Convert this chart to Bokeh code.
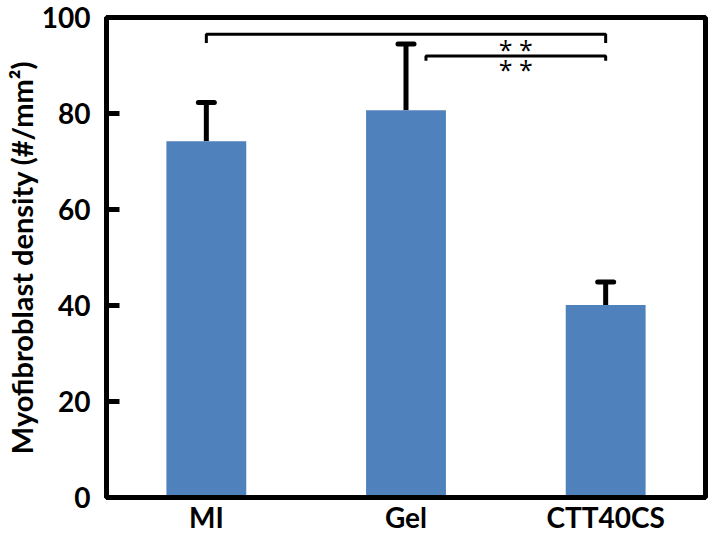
from bokeh.plotting import figure
from bokeh.models import Range1d, FixedTicker, Whisker, TeeHead, ColumnDataSource
from bokeh.core.properties import value
from bokeh.embed import file_html
from bokeh.resources import INLINE

# ---- data ----
categories = ["MI", "Gel", "CTT40CS"]
density = [74.2, 80.7, 40.1]
density_err = [8.1, 13.8, 4.8]
y_ticks = [0, 20, 40, 60, 80, 100]
# significance comparisons: (from category index, to category index, label)
comparisons = [(0, 2, "* *"), (1, 2, "* *")]
y_title = "Myofibroblast density (#/mm²)"

FONT = "Lato"
BAR_COLOR = "#4F81BD"
LW = 5

x_pos = [i + 0.5 for i in range(len(categories))]
upper = [v + e for v, e in zip(density, density_err)]

p = figure(width=708, height=536, output_backend="svg", toolbar_location=None,
           x_range=Range1d(0, 3), y_range=Range1d(0, 100),
           min_border_left=100, min_border_right=3, min_border_top=17,
           min_border_bottom=30, background_fill_color="white",
           border_fill_color="white")

src = ColumnDataSource(dict(x=x_pos, top=density, upper=upper))
p.vbar(x="x", top="top", bottom=0, width=0.4, source=src,
       fill_color=BAR_COLOR, line_color=None)

w = Whisker(base="x", lower="top", upper="upper", source=src, dimension="height",
            line_color="black", line_width=LW,
            upper_head=TeeHead(size=16, line_width=LW, line_color="black", line_cap="round"),
            lower_head=None)
p.add_layout(w)

# significance brackets
bracket_levels = [96.5, 92.0]
tip_len = [1.8, 1.0]
start_offsets = [0.0, 0.1]
for (a, b, lab), lvl, tl, off in zip(comparisons, bracket_levels, tip_len, start_offsets):
    xa = x_pos[a] + off
    xb = x_pos[b]
    p.line([xa, xa, xb, xb], [lvl - tl, lvl, lvl, lvl - tl],
           line_color="black", line_width=3)

star_x = (x_pos[1] + 0.1 + x_pos[2]) / 2
p.text(x=[star_x, star_x], y=[93.5, 89.2], text=[c[2] for c in comparisons],
       text_font=value("Open Sans"), text_font_size="25px",
       text_align="center", text_baseline="alphabetic", text_color="black")

# frame / axes
p.outline_line_color = "black"
p.outline_line_width = LW
p.xgrid.visible = False
p.ygrid.visible = False

ya = p.yaxis[0]
ya.ticker = FixedTicker(ticks=y_ticks)
ya.axis_line_width = LW
ya.major_tick_line_width = LW
ya.major_tick_in = 13
ya.major_tick_out = 0
ya.minor_tick_line_color = None
ya.major_label_standoff = 16
ya.major_label_text_font = FONT
ya.major_label_text_font_style = "bold"
ya.major_label_text_font_size = "28px"
ya.major_label_text_color = "black"
ya.axis_label = y_title
ya.axis_label_standoff = 0
ya.axis_label_text_font = FONT
ya.axis_label_text_font_style = "bold"
ya.axis_label_text_font_size = "29px"
ya.axis_label_text_color = "black"

xa_ = p.xaxis[0]
xa_.ticker = FixedTicker(ticks=x_pos)
xa_.major_label_overrides = {x: c for x, c in zip(x_pos, categories)}
xa_.axis_line_width = LW
xa_.major_tick_line_color = None
xa_.minor_tick_line_color = None
xa_.major_tick_in = 0
xa_.major_tick_out = 0
xa_.major_label_standoff = 2
xa_.major_label_text_font = FONT
xa_.major_label_text_font_style = "bold"
xa_.major_label_text_font_size = "28px"
xa_.major_label_text_color = "black"

open("out.html", "w").write(file_html(p, INLINE))
